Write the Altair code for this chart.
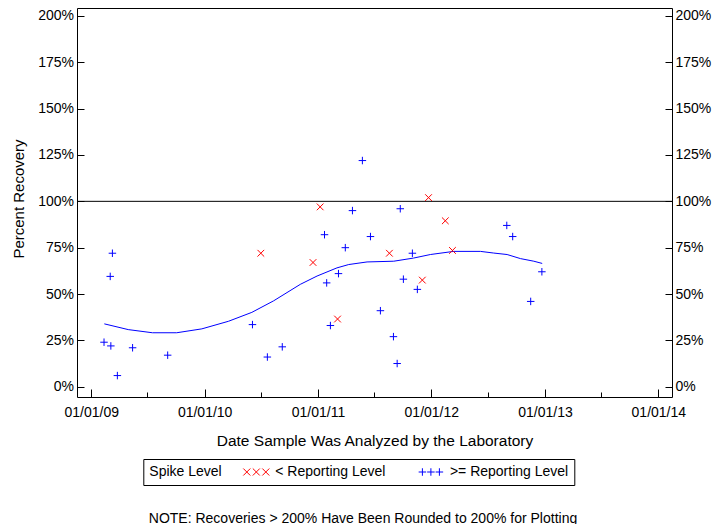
import altair as alt
import pandas as pd

# ---- data ----
blue_dates = ["2009-02-11", "2009-03-03", "2009-03-05", "2009-03-10", "2009-03-26",
              "2009-05-14", "2009-09-04", "2010-06-04", "2010-07-22", "2010-09-08",
              "2011-01-22", "2011-01-29", "2011-02-10", "2011-03-08", "2011-03-30",
              "2011-04-22", "2011-05-24", "2011-06-19", "2011-07-21", "2011-09-01",
              "2011-09-13", "2011-09-23", "2011-10-03", "2011-11-01", "2011-11-17",
              "2012-08-31", "2012-09-19", "2012-11-16", "2012-12-22"]
blue_pct = [24, 59.5, 22, 72, 6,
            21, 17, 33.5, 16, 21.5,
            82, 56, 33, 61, 75,
            95, 122, 81, 41, 27,
            12.5, 96, 58, 72, 52.5,
            87, 81, 46, 62]

red_dates = ["2010-07-01", "2010-12-16", "2011-01-08", "2011-03-05", "2011-08-19",
             "2011-12-03", "2011-12-23", "2012-02-15", "2012-03-09"]
red_pct = [72, 67, 97, 36.5, 72, 57.5, 102, 89.5, 73.5]

loess_dates = ["2009-02-12", "2009-04-30", "2009-07-17", "2009-10-03", "2009-12-23",
               "2010-03-19", "2010-06-02", "2010-08-11", "2010-11-05", "2010-12-29",
               "2011-03-03", "2011-04-10", "2011-06-08", "2011-09-02", "2011-11-05",
               "2011-12-29", "2012-03-13", "2012-06-07", "2012-07-20", "2012-09-01",
               "2012-10-14", "2012-11-26", "2012-12-23"]
loess_pct = [33.9, 30.8, 29.1, 29.1, 31.2,
             35.3, 40.1, 46.3, 55.2, 59.7,
             64.1, 65.9, 67.3, 67.7, 69.4,
             71.3, 73.0, 73.0, 72.1, 71.3,
             69.1, 67.7, 66.5]

ref_pct = [100]
y_ticks = [0, 25, 50, 75, 100, 125, 150, 175, 200]
x_major_years = [2009, 2010, 2011, 2012, 2013, 2014]
x_minor_years = [2009, 2010, 2011, 2012, 2013]
levels = ["< Reporting Level", ">= Reporting Level"]
level_colors = ["#FF0000", "#0000FF"]

x_title = "Date Sample Was Analyzed by the Laboratory"
y_title = "Percent Recovery"
legend_title = "Spike Level"
note = "NOTE: Recoveries > 200% Have Been Rounded to 200% for Plotting"

# ---- styling ----
FONT = "Liberation Sans"
PLUS = "M-1,0L1,0M0,-1L0,1"
CROSS = "M-1,-1L1,1M-1,1L1,-1"


def triple_cross(h=0.875, step=2.375):
    return "".join(f"M{c - h},{-h}L{c + h},{h}M{c - h},{h}L{c + h},{-h}"
                   for c in (-step, 0, step))


def triple_plus(h=0.9375, step=2.125):
    return "".join(f"M{c - h},0L{c + h},0M{c},{-h}L{c},{h}"
                   for c in (-step, 0, step))


blue_df = pd.DataFrame({"date": blue_dates, "pct": blue_pct})
red_df = pd.DataFrame({"date": red_dates, "pct": red_pct})
loess_df = pd.DataFrame({"date": loess_dates, "pct": loess_pct})
ref_df = pd.DataFrame({"pct": ref_pct})
level_df = pd.DataFrame({"level": levels})

x_dom = [alt.DateTime(year=2008, month=11, date=16, utc=True),
         alt.DateTime(year=2014, month=2, date=14, utc=True)]
y_dom = [-5.56, 204.3]

X = alt.X(
    "date:T",
    scale=alt.Scale(type="utc", domain=x_dom),
    axis=alt.Axis(
        values=[alt.DateTime(year=y, month=1, date=1, utc=True) for y in x_major_years],
        format="%m/%d/%y", tickSize=8, offset=-8, labelPadding=19.7,
        labelBaseline="alphabetic", labelFlush=False, labelOverlap=False,
        title=x_title, titleFontSize=15.5, titleY=56, titleBaseline="alphabetic",
    ),
)
Y = alt.Y(
    "pct:Q",
    scale=alt.Scale(domain=y_dom, nice=False, zero=False),
    axis=alt.Axis(
        values=y_ticks, labelExpr="datum.value + '%'", tickSize=7, offset=-7,
        labelPadding=3.5, labelFlush=False, labelOverlap=False,
        title=y_title, titleFontSize=15, titleX=-60.7, titleY=190.5,
        titleBaseline="alphabetic",
    ),
)

rule = alt.Chart(ref_df).mark_rule(color="black", strokeWidth=1).encode(y=Y)
loess = alt.Chart(loess_df).mark_line(color="#0000FF", strokeWidth=1).encode(x=X, y=Y)
red = alt.Chart(red_df).mark_point(
    shape=CROSS, filled=False, color="#FF0000", size=45, strokeWidth=1, opacity=1
).encode(x=X, y=Y)
blue = alt.Chart(blue_df).mark_point(
    shape=PLUS, filled=False, color="#0000FF", size=56, strokeWidth=1, opacity=1
).encode(x=X, y=Y)

LEG = alt.Legend(
    orient="none", legendX=66.3, legendY=451, direction="horizontal",
    title=legend_title, titleOrient="left", titleFontSize=14, titleFontWeight="normal",
    titleColor="black", titleFont=FONT, titlePadding=27,
    labelFontSize=14, labelFont=FONT, labelColor="black", labelOffset=12,
    columnPadding=29.6, symbolSize=64, symbolStrokeWidth=1, symbolOpacity=1,
    strokeColor="black", fillColor="white", padding=6,
)
legend_layer = alt.Chart(level_df).mark_point(filled=False, opacity=1).encode(
    color=alt.Color("level:N", scale=alt.Scale(domain=levels, range=level_colors), legend=LEG),
    shape=alt.Shape("level:N", scale=alt.Scale(domain=levels, range=[triple_cross(), triple_plus()]), legend=LEG),
).transform_filter("datum.level == 'none'")

main = alt.layer(rule, loess, red, blue, legend_layer)

X2 = alt.X(
    "date:T",
    scale=alt.Scale(type="utc", domain=x_dom),
    axis=alt.Axis(
        orient="bottom",
        values=[alt.DateTime(year=y, month=7, date=1, utc=True) for y in x_minor_years],
        tickSize=5, offset=-5, labels=False, title=None,
    ),
)
Y2 = alt.Y(
    "pct:Q",
    scale=alt.Scale(domain=y_dom, nice=False, zero=False),
    axis=alt.Axis(
        orient="right", values=y_ticks, labelExpr="datum.value + '%'", tickSize=7,
        offset=-7, labelPadding=3, labelFlush=False, labelOverlap=False, title=None,
    ),
)
minor = alt.Chart(blue_df).mark_point(opacity=0).encode(x=X2, y=Y2)

chart = alt.layer(main, minor).resolve_scale(x="independent", y="independent").properties(
    width=595, height=389,
    autosize=alt.AutoSizeParams(type="none"),
    padding={"left": 69, "top": 0, "right": 40, "bottom": 127},
    title=alt.TitleParams(
        note, orient="bottom", anchor="middle", font=FONT, fontSize=14,
        fontWeight="normal", color="black", offset=37, dx=-11.5, baseline="alphabetic",
    ),
).configure(font=FONT, background="white").configure_view(
    stroke="black", strokeWidth=1
).configure_axis(
    labelFont=FONT, titleFont=FONT, labelColor="black", titleColor="black",
    tickColor="black", tickWidth=1, domain=False, grid=False,
    titleFontWeight="normal", labelFontSize=14,
)

chart.save("out.html", embed_options={"renderer": "svg", "actions": False})
